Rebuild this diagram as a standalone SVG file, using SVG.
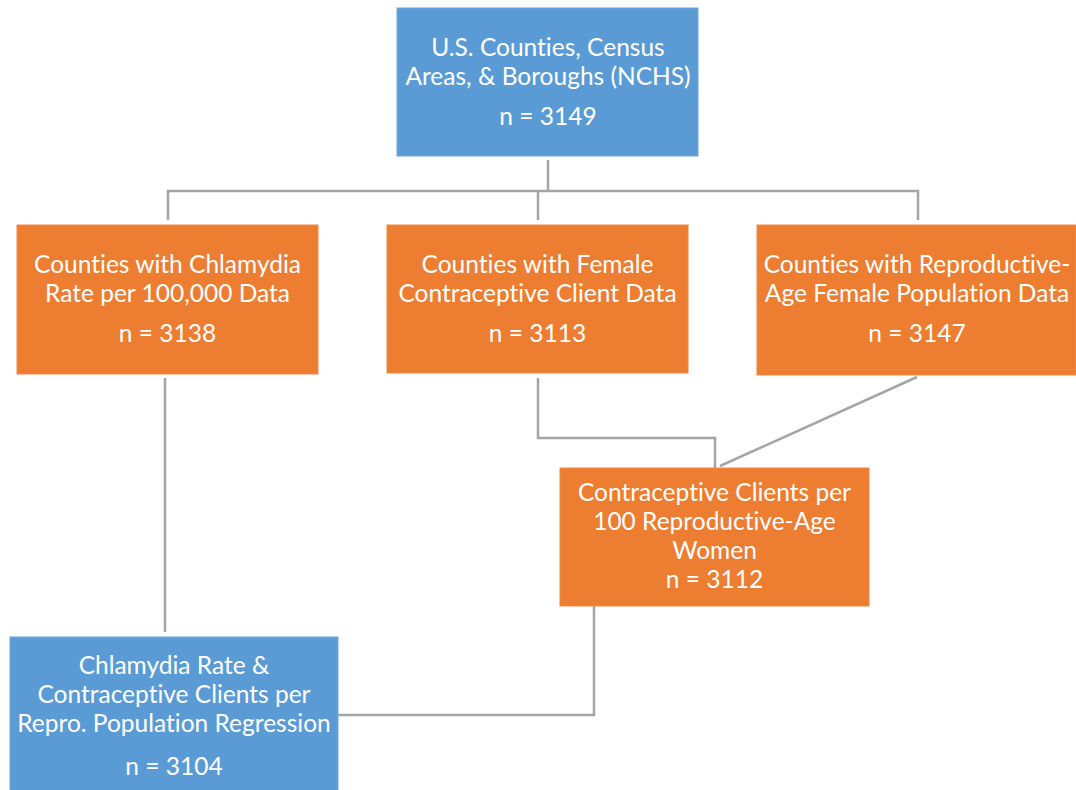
<svg xmlns="http://www.w3.org/2000/svg" width="1076" height="790" viewBox="0 0 1076 790">
<style>
.blue{fill:#5B9BD5;stroke:#6FA8DC;stroke-width:1}
.orange{fill:#ED7D31;stroke:#F08A45;stroke-width:1}
.t{font-family:Lato,"Open Sans","Liberation Sans",sans-serif;font-size:24.5px;fill:#FFFFFF;text-anchor:middle;font-variant-ligatures:none;font-feature-settings:"liga" 0,"clig" 0,"dlig" 0}
.c{fill:none;stroke:#A5A5A5;stroke-width:2.5}
</style>
<rect width="1076" height="790" fill="#FFFFFF"/>
<g id="connectors">
<polyline class="c" points="548,160 548,191"/>
<polyline class="c" points="168,220 168,191 918,191 918,220"/>
<polyline class="c" points="538,191 538,220"/>
<polyline class="c" points="165,378 165,632"/>
<polyline class="c" points="538,378 538,438 715,438 715,468"/>
<polyline class="c" points="917,377 720,466"/>
<polyline class="c" points="594,606 594,715 338,715"/>
</g>
<g id="top">
<rect class="blue" x="397" y="8" width="301" height="148"/>
<text class="t" x="548" y="56">U.S. Counties, Census</text>
<text class="t" x="548" y="85">Areas, &amp; Boroughs (NCHS)</text>
<text class="t" x="548" y="125">n = 3149</text>
</g>
<g id="chlamydia">
<rect class="orange" x="17" y="225" width="301" height="149"/>
<text class="t" x="167.5" y="273">Counties with Chlamydia</text>
<text class="t" x="167.5" y="302">Rate per 100,000 Data</text>
<text class="t" x="167.5" y="342">n = 3138</text>
</g>
<g id="contraceptive">
<rect class="orange" x="387" y="225" width="301" height="148"/>
<text class="t" x="537.5" y="273">Counties with Female</text>
<text class="t" x="537.5" y="302">Contraceptive Client Data</text>
<text class="t" x="537.5" y="342">n = 3113</text>
</g>
<g id="reproductive">
<rect class="orange" x="757" y="225" width="319" height="150"/>
<text class="t" x="917" y="273">Counties with Reproductive-</text>
<text class="t" x="917" y="302">Age Female Population Data</text>
<text class="t" x="917" y="342">n = 3147</text>
</g>
<g id="clients">
<rect class="orange" x="560" y="468" width="309" height="138"/>
<text class="t" x="714.5" y="501">Contraceptive Clients per</text>
<text class="t" x="714.5" y="530">100 Reproductive-Age</text>
<text class="t" x="714.5" y="559">Women</text>
<text class="t" x="714.5" y="588">n = 3112</text>
</g>
<g id="regression">
<rect class="blue" x="10" y="637" width="328" height="155"/>
<text class="t" x="174" y="674">Chlamydia Rate &amp;</text>
<text class="t" x="174" y="703">Contraceptive Clients per</text>
<text class="t" x="174" y="732">Repro. Population Regression</text>
<text class="t" x="174" y="775">n = 3104</text>
</g>
</svg>
